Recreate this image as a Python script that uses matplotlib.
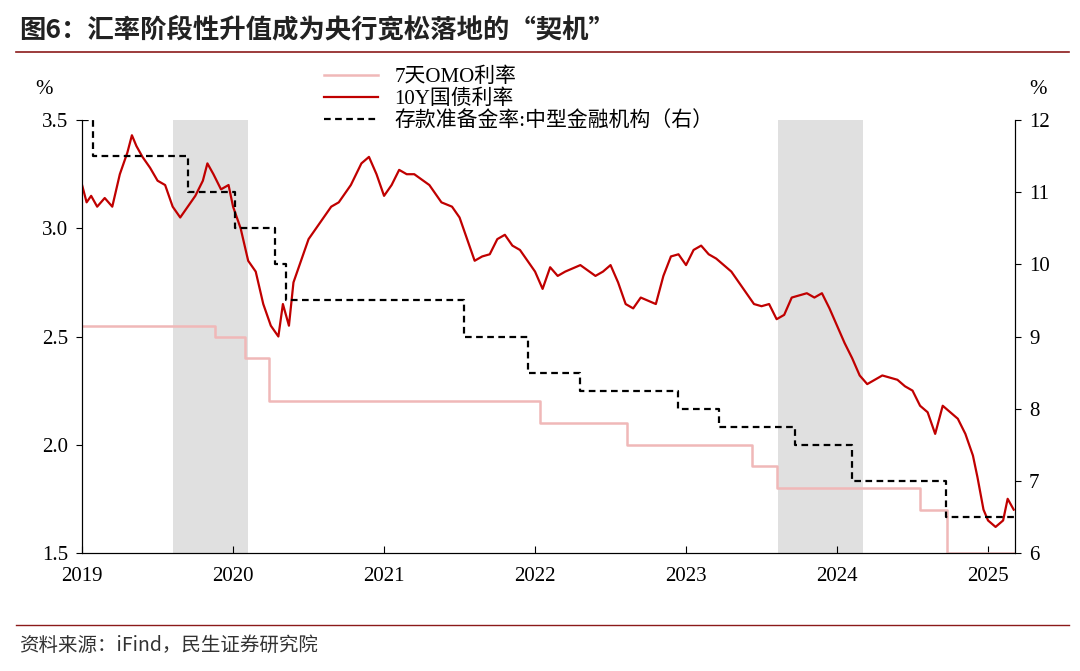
import matplotlib.pyplot as plt
import matplotlib.lines as mlines
import numpy as np

# 10Y treasury yield
bond_t = [2019.0, 2019.03, 2019.06, 2019.1, 2019.15, 2019.2, 2019.25, 2019.3, 2019.33, 2019.36, 2019.4, 2019.45,
          2019.5, 2019.55, 2019.6, 2019.65, 2019.7, 2019.75, 2019.8, 2019.83, 2019.87, 2019.92, 2019.97,
          2020.0, 2020.05, 2020.1, 2020.15, 2020.2, 2020.25, 2020.3, 2020.33, 2020.37, 2020.4, 2020.45,
          2020.5, 2020.55, 2020.6, 2020.65, 2020.7, 2020.78, 2020.85, 2020.9, 2020.95, 2021.0, 2021.05,
          2021.1, 2021.15, 2021.2, 2021.3, 2021.38, 2021.45, 2021.5, 2021.55, 2021.6, 2021.65, 2021.7,
          2021.75, 2021.8, 2021.85, 2021.9, 2021.95, 2022.0, 2022.05, 2022.1, 2022.15, 2022.2, 2022.3,
          2022.4, 2022.45, 2022.5, 2022.55, 2022.6, 2022.65, 2022.7, 2022.8, 2022.85, 2022.9, 2022.95,
          2023.0, 2023.05, 2023.1, 2023.15, 2023.2, 2023.3, 2023.35, 2023.4, 2023.45, 2023.5, 2023.55,
          2023.6, 2023.65, 2023.7, 2023.8, 2023.85, 2023.9, 2023.95, 2024.0, 2024.05, 2024.1, 2024.15,
          2024.2, 2024.25, 2024.3, 2024.4, 2024.45, 2024.5, 2024.55, 2024.6, 2024.65, 2024.7, 2024.75,
          2024.8, 2024.85, 2024.9, 2024.93, 2024.97, 2025.0, 2025.05, 2025.1, 2025.13, 2025.17]
bond_y = [3.20, 3.12, 3.15, 3.10, 3.14, 3.10, 3.25, 3.35, 3.43, 3.38, 3.33, 3.28,
          3.22, 3.20, 3.10, 3.05, 3.10, 3.15, 3.22, 3.30, 3.25, 3.18, 3.20,
          3.10, 3.00, 2.85, 2.80, 2.65, 2.55, 2.50, 2.65, 2.55, 2.75, 2.85,
          2.95, 3.00, 3.05, 3.10, 3.12, 3.20, 3.30, 3.33, 3.25, 3.15, 3.20,
          3.27, 3.25, 3.25, 3.20, 3.12, 3.10, 3.05, 2.95, 2.85, 2.87, 2.88,
          2.95, 2.97, 2.92, 2.90, 2.85, 2.80, 2.72, 2.82, 2.78, 2.80, 2.83,
          2.78, 2.80, 2.83, 2.75, 2.65, 2.63, 2.68, 2.65, 2.78, 2.87, 2.88,
          2.83, 2.90, 2.92, 2.88, 2.86, 2.80, 2.75, 2.70, 2.65, 2.64, 2.65,
          2.58, 2.60, 2.68, 2.70, 2.68, 2.70, 2.63, 2.55, 2.47, 2.40, 2.32,
          2.28, 2.30, 2.32, 2.30, 2.27, 2.25, 2.18, 2.15, 2.05, 2.18, 2.15,
          2.12, 2.05, 1.95, 1.85, 1.70, 1.65, 1.62, 1.65, 1.75, 1.70]

# 7-day OMO rate (step)
omo_t = [2019.0, 2019.88, 2020.08, 2020.24, 2022.03, 2022.61, 2023.44, 2023.6, 2024.55, 2024.73, 2025.18]
omo_y = [2.55, 2.50, 2.40, 2.20, 2.10, 2.00, 1.90, 1.80, 1.70, 1.50, 1.50]

# RRR, medium financial institutions (step, right axis)
rrr_t = [2019.0, 2019.07, 2019.7, 2020.01, 2020.28, 2020.35, 2021.53, 2021.95, 2022.3, 2022.95, 2023.22, 2023.72, 2024.1, 2024.72, 2025.18]
rrr_y = [12.0, 11.5, 11.0, 10.5, 10.0, 9.5, 9.0, 8.5, 8.25, 8.0, 7.75, 7.5, 7.0, 6.5, 6.5]

shade = [(2019.6, 2020.1), (2023.61, 2024.17)]

serif = 'Liberation Serif'
cjk = 'Noto Sans CJK SC'
plt.rcParams['font.family'] = [serif, cjk]

fig = plt.figure(figsize=(10.8, 6.71), dpi=100)
ax = fig.add_axes([0.076, 0.176, 0.864, 0.645])
ax2 = ax.twinx()

for a, b in shade:
    ax.axvspan(a, b, color='#e0e0e0', lw=0, zorder=0)

ax.step(omo_t, omo_y, where='post', color='#f0b8b8', lw=1.8, zorder=2)
ax.plot(bond_t, bond_y, color='#c00000', lw=1.6, zorder=3)
ax2.step(rrr_t, rrr_y, where='post', color='black', lw=1.6, ls=(0, (3, 2)), zorder=4)

ax.set_xlim(2019, 2025.18)
ax.set_ylim(1.5, 3.5)
ax2.set_ylim(6, 12)
ax.set_xticks(range(2019, 2026))
ax.set_xticklabels([str(y) for y in range(2019, 2026)])
ax.set_yticks([1.5, 2.0, 2.5, 3.0, 3.5])
ax.set_yticklabels(['1.5', '2.0', '2.5', '3.0', '3.5'])
ax2.set_yticks(range(6, 13))
for a in (ax, ax2):
    a.tick_params(labelsize=15, direction='out', length=4, pad=6)
    a.spines['top'].set_visible(False)
ax.tick_params(axis='x', direction='in', length=5, pad=10)
ax.text(-0.05, 1.06, '%', transform=ax.transAxes, fontsize=15)
ax2.text(1.015, 1.06, '%', transform=ax.transAxes, fontsize=15)

handles = [mlines.Line2D([], [], color='#f0b8b8', lw=1.8),
           mlines.Line2D([], [], color='#c00000', lw=1.6),
           mlines.Line2D([], [], color='black', lw=1.6, ls=(0, (3, 2)))]
labels = ['7天OMO利率', '10Y国债利率', '存款准备金率:中型金融机构（右）']
ax.legend(handles, labels, loc='upper left', bbox_to_anchor=(0.25, 1.14), frameon=False,
          fontsize=15, handlelength=2.6, labelspacing=0.1, borderaxespad=0)

fig.text(0.018, 0.955, '图6：汇率阶段性升值成为央行宽松落地的“契机”', fontsize=19,
         fontweight='bold', family=cjk, color='#222222', va='center')
fig.add_artist(mlines.Line2D([0.015, 0.99], [0.922, 0.922], color='#8b1a1a', lw=1.2))
fig.add_artist(mlines.Line2D([0.015, 0.99], [0.068, 0.068], color='#8b1a1a', lw=1.0))
fig.text(0.018, 0.038, '资料来源：iFind，民生证券研究院', fontsize=14, family=cjk, va='center', color='#333333')

fig.savefig('out.png', dpi=100)
